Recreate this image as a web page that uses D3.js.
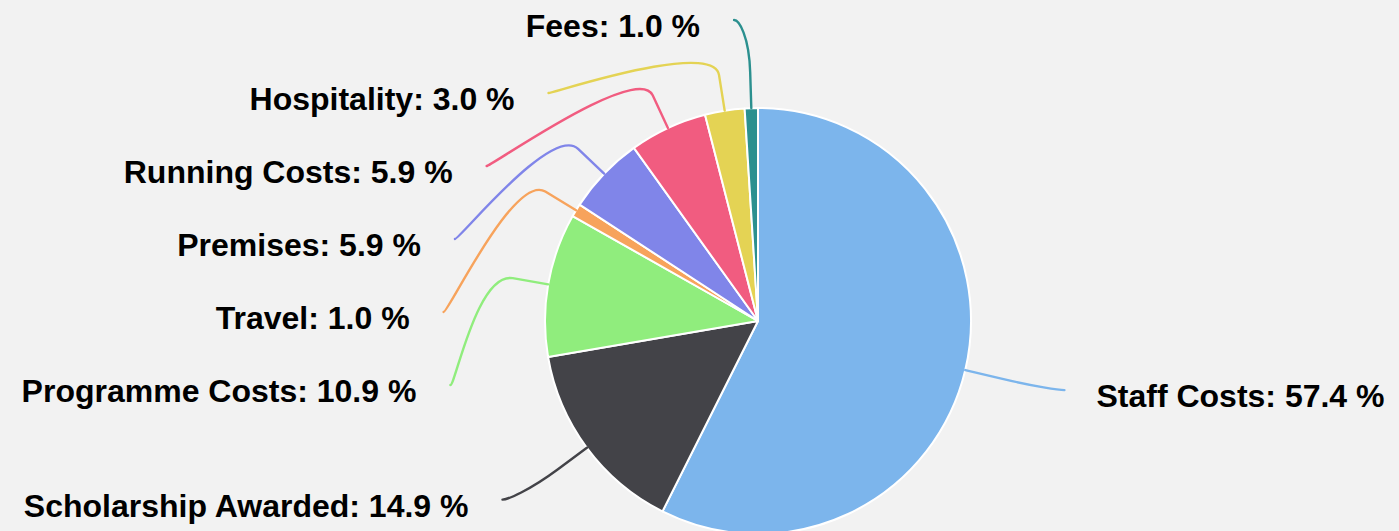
<!DOCTYPE html>
<html lang="en">
  <head>
    <meta charset="UTF-8" />
    <title>pie</title>
    <style>
      html, body { margin: 0; padding: 0; background: #f2f2f2; }
      svg { display: block; }
    </style>
  </head>
  <body>
    <svg id="svg" width="1399" height="531"></svg>
    <script src="https://cdn.jsdelivr.net/npm/d3@7"></script>
    <script>
      // data
      const categories = ['Staff Costs', 'Scholarship Awarded', 'Programme Costs', 'Travel', 'Premises', 'Running Costs', 'Hospitality', 'Fees']
      const shares = [57.4, 14.9, 10.9, 1.0, 5.9, 5.9, 3.0, 1.0]
      const colors = ['#7cb5ec', '#434348', '#90ed7d', '#f7a35c', '#8085e9', '#f15c80', '#e4d354', '#2b908f']

      const svg = d3.select('#svg')
      const width = +svg.attr('width')
      const height = +svg.attr('height')

      const cx = 758
      const cy = 321
      const radius = 213
      const labelDistance = 87 // label circle = radius + distance
      const padding = 14.5
      const breakOffset = 36
      const slot = 73 // vertical room for one label
      const yMin = 20
      const yMax = height - 31

      svg.append('rect').attr('width', width).attr('height', height).attr('fill', '#f2f2f2')

      const data = categories.map((c, i) => ({ name: c, value: shares[i], color: colors[i] }))

      const pie = d3.pie().value((d) => d.value).sort(null)
      const arcs = pie(data)
      const arc = d3.arc().innerRadius(0).outerRadius(radius)

      const g = svg.append('g').attr('transform', `translate(${cx},${cy})`)

      // label layout, a bit like highcharts does it
      const L = radius + labelDistance
      arcs.forEach((a) => {
        a.mid = (a.startAngle + a.endAngle) / 2
        a.left = a.mid > Math.PI
        a.naturalY = cy - Math.cos(a.mid) * L
      })

      function distribute(items) {
        items.sort((a, b) => a.naturalY - b.naturalY)
        let clusters = items.map((d) => ({ items: [d] }))
        const place = (c) => {
          const n = c.items.length
          let s = d3.mean(c.items, (d, k) => d.naturalY - k * slot)
          s = Math.max(yMin, Math.min(yMax - (n - 1) * slot, s))
          c.start = s
        }
        let merged = true
        while (merged) {
          merged = false
          clusters.forEach(place)
          for (let i = 1; i < clusters.length; i++) {
            const p = clusters[i - 1]
            if (p.start + p.items.length * slot > clusters[i].start) {
              p.items = p.items.concat(clusters[i].items)
              clusters.splice(i, 1)
              merged = true
              break
            }
          }
        }
        clusters.forEach((c) => c.items.forEach((d, k) => (d.y = c.start + k * slot)))
        items.forEach((d, k) => {
          // first and last slot keep the natural x
          const yy = k === 0 || k === items.length - 1 ? d.naturalY : d.y
          const s = Math.max(-1, Math.min(1, (yy - cy) / L))
          const dx = Math.cos(Math.asin(s)) * L + padding
          d.x = d.left ? cx - dx : cx + dx
        })
      }
      distribute(arcs.filter((a) => a.left))
      distribute(arcs.filter((a) => !a.left))

      // slices
      g.selectAll('path.slice')
        .data(arcs)
        .enter()
        .append('path')
        .attr('class', 'slice')
        .attr('d', arc)
        .attr('fill', (d) => d.data.color)
        .attr('stroke', '#ffffff')
        .attr('stroke-width', 2)
        .attr('stroke-linejoin', 'round')

      // connectors
      svg
        .selectAll('path.conn')
        .data(arcs)
        .enter()
        .append('path')
        .attr('class', 'conn')
        .attr('fill', 'none')
        .attr('stroke', (d) => d.data.color)
        .attr('stroke-width', 2.4)
        .attr('stroke-linecap', 'round')
        .attr('d', (d) => {
          const sx = Math.sin(d.mid)
          const sy = -Math.cos(d.mid)
          const tx = cx + sx * radius
          const ty = cy + sy * radius
          const bx = cx + sx * (radius + breakOffset)
          const by = cy + sy * (radius + breakOffset)
          const p = d3.path()
          p.moveTo(d.x, d.y)
          p.bezierCurveTo(d.x + (d.left ? 5 : -5), d.y, 2 * bx - tx, 2 * by - ty, bx, by)
          p.lineTo(tx, ty)
          return p.toString()
        })

      // labels
      svg
        .selectAll('text.label')
        .data(arcs)
        .enter()
        .append('text')
        .attr('class', 'label')
        .attr('x', (d) => (d.left ? d.x - 34 : d.x + 32))
        .attr('y', (d) => d.y + 17)
        .attr('text-anchor', (d) => (d.left ? 'end' : 'start'))
        .attr('font-family', 'Liberation Sans, Arial, Helvetica, sans-serif')
        .attr('font-weight', 'bold')
        .attr('font-size', 32)
        .attr('fill', '#000')
        .text((d) => `${d.data.name}: ${d.data.value.toFixed(1)} %`)
    </script>
  </body>
</html>
